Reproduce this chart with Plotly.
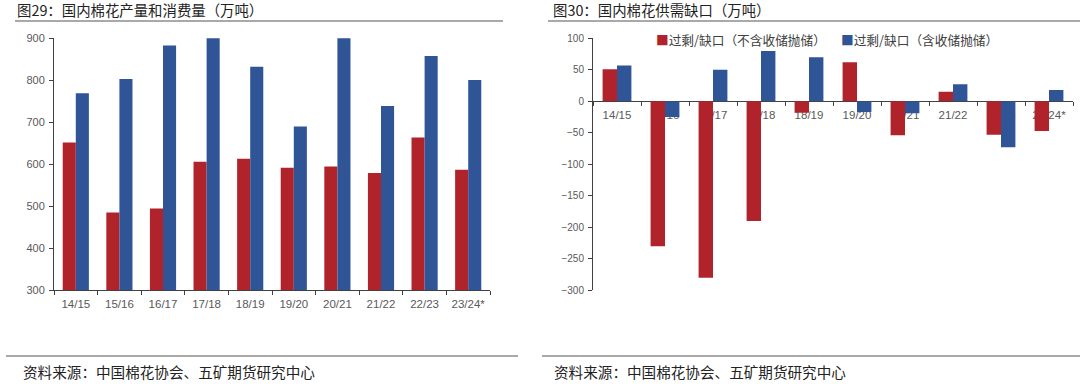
import plotly.graph_objects as go

categories = ["14/15", "15/16", "16/17", "17/18", "18/19", "19/20", "20/21", "21/22", "22/23", "23/24*"]
production = [652, 485, 495, 606, 613, 592, 595, 579, 664, 587]
consumption = [769, 803, 883, 903, 832, 690, 903, 739, 858, 801]
gap_excl = [51, -230, -280, -190, -18, 62, -54, 15, -53, -47]
gap_incl = [57, -25, 50, 80, 70, -17, -19, 27, -73, 18]

RED = "#B0232A"
BLUE = "#2F5597"
LABEL_FAMILY = "Liberation Sans, Arial"
LABEL_COLOR = "#595959"
CJK = "Noto Sans CJK SC"

W, H = 1080, 384
def px(x):
    return x / W
def py(y):
    return 1 - y / H

ydom = [py(290.3), py(38.3)]

fig = go.Figure()
fig.add_trace(go.Bar(x=categories, y=production, marker_color=RED, marker_line_width=0,
                     xaxis="x", yaxis="y", showlegend=False))
fig.add_trace(go.Bar(x=categories, y=consumption, marker_color=BLUE, marker_line_width=0,
                     xaxis="x", yaxis="y", showlegend=False))
fig.add_trace(go.Bar(x=categories, y=gap_excl, marker_color=RED, marker_line_width=0,
                     xaxis="x2", yaxis="y2", showlegend=False))
fig.add_trace(go.Bar(x=categories, y=gap_incl, marker_color=BLUE, marker_line_width=0,
                     xaxis="x2", yaxis="y2", showlegend=False))

def axis_style(size, standoff):
    return dict(showgrid=False, zeroline=False, showline=True, linecolor="#404040",
                linewidth=1, ticks="outside", ticklen=4, tickcolor="#404040",
                tickfont=dict(family=LABEL_FAMILY, size=size, color=LABEL_COLOR),
                ticklabelstandoff=standoff, automargin=False)

y2min, y2max = -300, 100
zero_pos = ydom[0] + (0 - y2min) / (y2max - y2min) * (ydom[1] - ydom[0])

fig.update_layout(
    width=W, height=H,
    margin=dict(l=0, r=0, t=0, b=0, pad=0, autoexpand=False),
    paper_bgcolor="white", plot_bgcolor="white",
    barmode="group", bargap=0.4, bargroupgap=0,
    xaxis=dict(domain=[px(54), px(490)], anchor="y", type="category",
               tickson="boundaries", **axis_style(11.5, 3)),
    yaxis=dict(domain=ydom, anchor="x", range=[300, 900], dtick=100, **axis_style(11, 2)),
    xaxis2=dict(domain=[px(593), px(1073)], anchor="free", position=zero_pos,
                type="category", tickson="boundaries", layer="below traces",
                **axis_style(11.5, 3)),
    yaxis2=dict(domain=ydom, anchor="x2", range=[y2min, y2max], dtick=50, **axis_style(10, 2)),
)

anns = [
    dict(text="图29：国内棉花产量和消费量（万吨）", x=px(15), y=py(10), size=14.4),
    dict(text="图30：国内棉花供需缺口（万吨）", x=px(551), y=py(10), size=14.4),
    dict(text="资料来源：中国棉花协会、五矿期货研究中心", x=px(21), y=py(371), size=14.6),
    dict(text="资料来源：中国棉花协会、五矿期货研究中心", x=px(552), y=py(371), size=14.6),
]
for a in anns:
    fig.add_annotation(text=a["text"], x=a["x"], y=a["y"], xref="paper", yref="paper",
                       xanchor="left", yanchor="middle", showarrow=False,
                       font=dict(family=CJK, size=a["size"], color="#222222"))

legend_items = [
    ("过剩/缺口（不含收储抛储）", RED, 654),
    ("过剩/缺口（含收储抛储）", BLUE, 839),
]
for label, color, x0 in legend_items:
    fig.add_annotation(text=f"<span style='color:{color}'>■</span>{label}",
                       x=px(x0), y=py(40), xref="paper", yref="paper",
                       xanchor="left", yanchor="middle", showarrow=False,
                       font=dict(family=CJK, size=12.7, color="#404040"))

line_style = dict(color="#8c8c8c", width=1.5)
for x0, x1, yy in [(15, 503, 21), (548, 1080, 21), (6, 518, 356), (542, 1080, 356)]:
    fig.add_shape(type="line", xref="paper", yref="paper",
                  x0=px(x0), x1=px(x1), y0=py(yy), y1=py(yy), line=line_style)

fig.write_html("out.html", config={"displayModeBar": False},
               post_script="document.body.style.margin='0';document.body.style.overflow='hidden';")
